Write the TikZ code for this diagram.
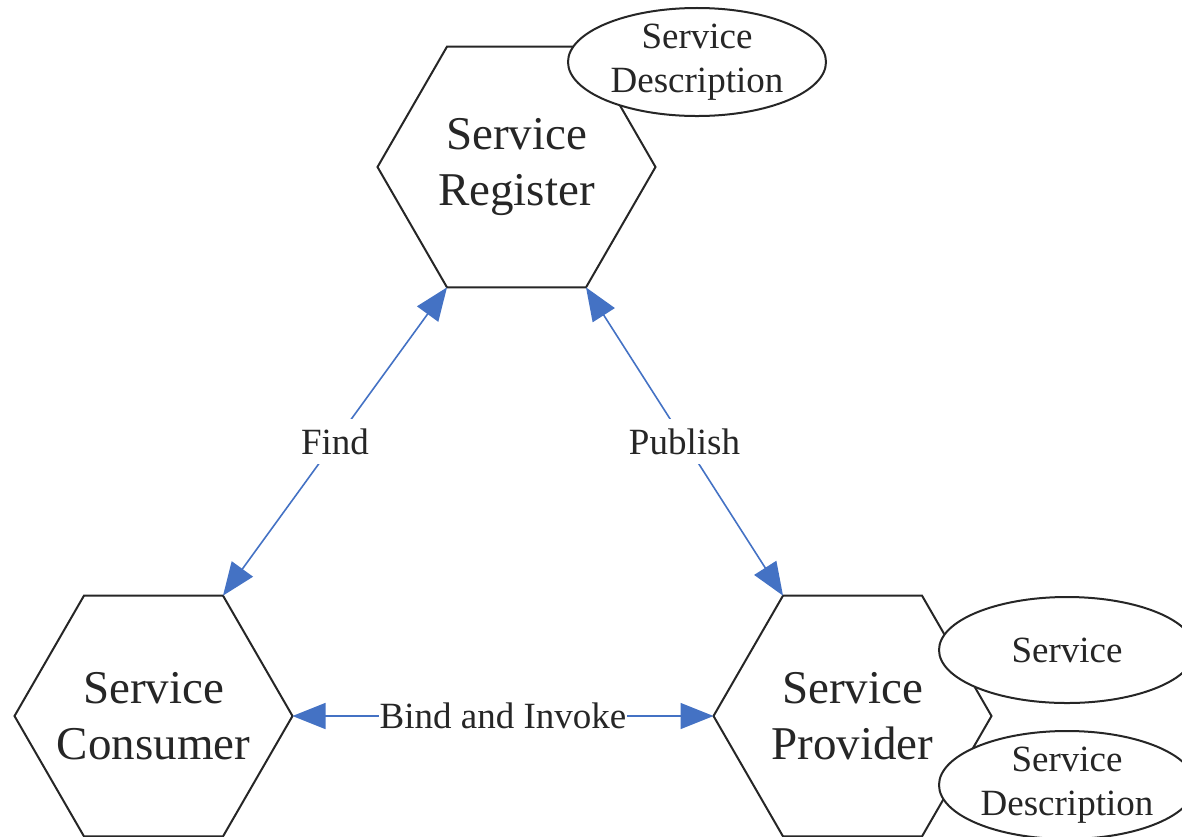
\documentclass[tikz,border=0pt]{standalone}
\usepackage{fontspec}
\setmainfont{Liberation Serif}
\usetikzlibrary{shapes.geometric,arrows.meta}
\definecolor{linkblue}{HTML}{4472C4}
\definecolor{inkgray}{HTML}{262626}
\tikzset{
  hexbox/.style={regular polygon, regular polygon sides=6, minimum size=278pt,
    inner sep=0pt, outer sep=0pt, draw=inkgray, line width=2pt, fill=white},
  hextext/.style={text=inkgray, align=center, inner sep=0pt,
    font=\fontsize{47}{56}\selectfont},
  tagbox/.style={ellipse, draw=inkgray, line width=2pt, fill=white, inner sep=0pt,
    outer sep=0pt, text=inkgray, align=center, font=\fontsize{37}{44}\selectfont},
  link/.style={draw=linkblue, line width=1.6pt,
    {Triangle[length=33pt,width=26pt]}-{Triangle[length=33pt,width=26pt]}},
  linklabel/.style={fill=white, text=inkgray, inner xsep=1pt, inner ysep=9pt,
    font=\fontsize{37}{44}\selectfont}
}
\begin{document}
\begin{tikzpicture}[x=1pt, y=-1pt]
  \path[use as bounding box] (0,0) rectangle (1182,836);
  \clip (0,0) rectangle (1182,836);

  % the three roles: fixed-size hexagons with their names centred inside
  \node[hexbox, label={[hextext]center:Service\\Register}] (reg)  at (516.5,167) {};
  \node[hexbox, label={[hextext]center:Service\\Consumer}] (cons) at (153.5,716) {};
  \node[hexbox, label={[hextext]center:Service\\Provider}] (prov) at (852.5,716) {};

  % artefacts attached to the roles
  \node[tagbox, minimum width=258pt, minimum height=108pt] (regdesc) at (697,62) {Service\\Description};
  \node[tagbox, minimum width=256pt, minimum height=106pt] (svc) at (1067,650) {Service};
  \node[tagbox, minimum width=256pt, minimum height=104pt] (provdesc) at (1067,785) {Service\\Description};

  % interactions
  \draw[link] (cons.60) -- node[linklabel] (find) {Find} (reg.240);
  \draw[link] (reg.300) -- node[linklabel] (pub) {Publish} (prov.120);
  \draw[link] (cons.0) -- node[linklabel] (bind) {Bind and Invoke} (prov.180);
\end{tikzpicture}
\end{document}
